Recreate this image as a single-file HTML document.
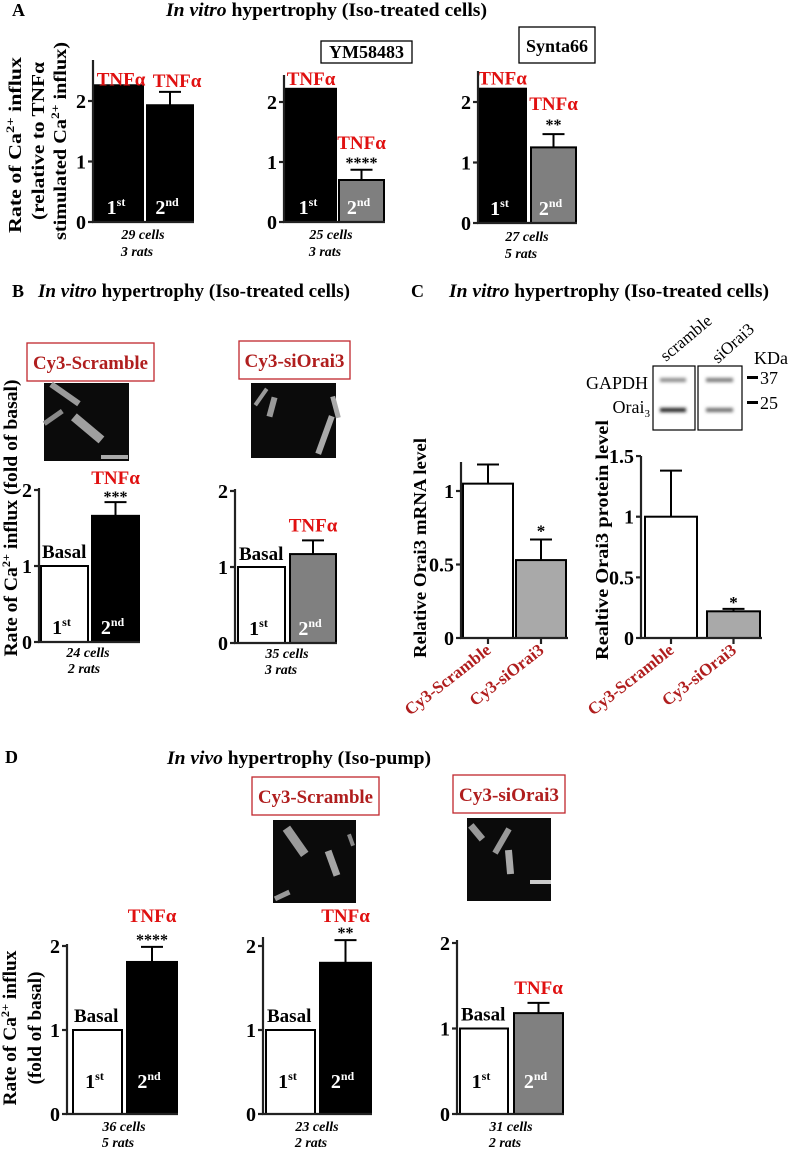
<!DOCTYPE html>
<html><head><meta charset="utf-8">
<style>
html,body{margin:0;padding:0;background:#fff;}
svg{display:block;font-family:"Liberation Serif","DejaVu Serif",serif;}
.b{font-weight:bold;}
</style></head>
<body>
<svg id="fig" width="796" height="1149" viewBox="0 0 796 1149" xmlns="http://www.w3.org/2000/svg">
<defs>
<filter id="blur" x="-20%" y="-100%" width="140%" height="300%"><feGaussianBlur stdDeviation="1.6"/></filter>
</defs>
<rect x="0" y="0" width="796" height="1149" fill="#fff"/>

<!-- Panel titles -->
<text x="12" y="16" class="b" font-size="18">A</text>
<text x="166" y="16" font-size="19" class="b" textLength="321" lengthAdjust="spacingAndGlyphs"><tspan font-style="italic">In vitro</tspan> hypertrophy (Iso-treated cells)</text>
<text x="12" y="297" class="b" font-size="18">B</text>
<text x="38" y="297" font-size="19" class="b" textLength="312" lengthAdjust="spacingAndGlyphs"><tspan font-style="italic">In vitro</tspan> hypertrophy (Iso-treated cells)</text>
<text x="411" y="297" class="b" font-size="18">C</text>
<text x="449" y="297" font-size="19" class="b" textLength="320" lengthAdjust="spacingAndGlyphs"><tspan font-style="italic">In vitro</tspan> hypertrophy (Iso-treated cells)</text>
<text x="5" y="763" class="b" font-size="18">D</text>
<text x="167" y="764" font-size="19" class="b" textLength="264" lengthAdjust="spacingAndGlyphs"><tspan font-style="italic">In vivo</tspan> hypertrophy (Iso-pump)</text>

<!-- Treatment boxes panel A -->
<g>
<rect x="321" y="41" width="91" height="22" fill="#fff" stroke="#000" stroke-width="1.3"/>
<text x="366.5" y="58" text-anchor="middle" font-size="18" class="b">YM58483</text>
</g>
<g>
<rect x="519" y="27" width="76" height="36" fill="#fff" stroke="#000" stroke-width="1.3"/>
<text x="557" y="52" text-anchor="middle" font-size="18" class="b">Synta66</text>
</g>

<!-- Y axis titles -->
<g class="b" font-size="18">
<text transform="translate(21,145) rotate(-90)" text-anchor="middle" textLength="176" lengthAdjust="spacingAndGlyphs">Rate of Ca<tspan font-size="12" dy="-7">2+</tspan><tspan dy="7"> influx</tspan></text>
<text transform="translate(44,141) rotate(-90)" text-anchor="middle" textLength="158" lengthAdjust="spacingAndGlyphs">(relative to TNFα</text>
<text transform="translate(66,141) rotate(-90)" text-anchor="middle" textLength="198" lengthAdjust="spacingAndGlyphs">stimulated Ca<tspan font-size="12" dy="-7">2+</tspan><tspan dy="7"> influx)</tspan></text>
</g>
<text class="b" font-size="19" transform="translate(17,518) rotate(-90)" text-anchor="middle" textLength="277" lengthAdjust="spacingAndGlyphs">Rate of Ca<tspan font-size="12" dy="-7">2+</tspan><tspan dy="7"> influx (fold of basal)</tspan></text>
<g class="b" font-size="19">
<text transform="translate(16,1028) rotate(-90)" text-anchor="middle" textLength="155" lengthAdjust="spacingAndGlyphs">Rate of Ca<tspan font-size="12" dy="-7">2+</tspan><tspan dy="7"> influx</tspan></text>
<text transform="translate(41,1028) rotate(-90)" text-anchor="middle" textLength="113" lengthAdjust="spacingAndGlyphs">(fold of basal)</text>
</g>
<text class="b" font-size="18" transform="translate(426,548) rotate(-90)" text-anchor="middle" textLength="220" lengthAdjust="spacingAndGlyphs">Relative Orai3 mRNA level</text>
<text class="b" font-size="18" transform="translate(608,540) rotate(-90)" text-anchor="middle" textLength="240" lengthAdjust="spacingAndGlyphs">Realtive Orai3 protein level</text>

<!-- siRNA boxes -->
<g>
<rect x="27" y="343" width="127" height="38" fill="#fff" stroke="#c0272d" stroke-width="1.3"/>
<text x="90.5" y="369" text-anchor="middle" font-size="19" class="b" fill="#b01e1e" textLength="115" lengthAdjust="spacingAndGlyphs">Cy3-Scramble</text>
</g>
<g>
<rect x="239" y="341" width="111" height="38" fill="#fff" stroke="#c0272d" stroke-width="1.3"/>
<text x="294.5" y="367" text-anchor="middle" font-size="19" class="b" fill="#b01e1e" textLength="100" lengthAdjust="spacingAndGlyphs">Cy3-siOrai3</text>
</g>
<g>
<rect x="252" y="777" width="127" height="38" fill="#fff" stroke="#c0272d" stroke-width="1.3"/>
<text x="315.5" y="803" text-anchor="middle" font-size="19" class="b" fill="#b01e1e" textLength="115" lengthAdjust="spacingAndGlyphs">Cy3-Scramble</text>
</g>
<g>
<rect x="453" y="775" width="112" height="38" fill="#fff" stroke="#c0272d" stroke-width="1.3"/>
<text x="509" y="801" text-anchor="middle" font-size="19" class="b" fill="#b01e1e" textLength="100" lengthAdjust="spacingAndGlyphs">Cy3-siOrai3</text>
</g>

<!-- Microscopy images -->
<g>
<rect x="44" y="383" width="85" height="78" fill="#0b0b0b"/>
<rect x="48" y="391" width="34" height="6" fill="#9a9a9a" transform="rotate(35 65 394)"/>
<rect x="42" y="415" width="22" height="5" fill="#8a8a8a" transform="rotate(-35 53 417)"/>
<rect x="70" y="424" width="36" height="9" fill="#a0a0a0" transform="rotate(40 88 428)"/>
<rect x="101" y="455" width="27" height="4" fill="#aaa"/>
</g>
<g>
<rect x="251" y="383" width="85" height="75" fill="#0b0b0b"/>
<rect x="251" y="395" width="20" height="4" fill="#999" transform="rotate(-55 261 397)"/>
<rect x="262" y="404" width="20" height="6" fill="#999" transform="rotate(-75 272 407)"/>
<rect x="305" y="432" width="40" height="6" fill="#aaa" transform="rotate(-70 325 435)"/>
<rect x="325" y="405" width="22" height="5" fill="#aaa" transform="rotate(75 336 407)"/>
</g>
<g>
<rect x="273" y="820" width="83" height="83" fill="#0b0b0b"/>
<rect x="280" y="837" width="32" height="9" fill="#9a9a9a" transform="rotate(55 296 841)"/>
<rect x="320" y="860" width="26" height="7" fill="#a5a5a5" transform="rotate(70 333 863)"/>
<rect x="274" y="893" width="16" height="5" fill="#999" transform="rotate(-25 282 895)"/>
<rect x="345" y="838" width="12" height="4" fill="#888" transform="rotate(70 351 840)"/>
</g>
<g>
<rect x="467" y="818" width="84" height="83" fill="#0b0b0b"/>
<rect x="468" y="829" width="18" height="7" fill="#999" transform="rotate(50 477 832)"/>
<rect x="488" y="838" width="28" height="6" fill="#999" transform="rotate(-60 502 841)"/>
<rect x="498" y="859" width="24" height="7" fill="#aaa" transform="rotate(85 510 862)"/>
<rect x="530" y="880" width="21" height="4" fill="#ccc"/>
</g>

<!-- Western blot -->
<g>
<text x="666" y="362" font-size="17" transform="rotate(-40 666 362)">scramble</text>
<text x="718" y="364" font-size="17" transform="rotate(-42 718 364)">siOrai3</text>
<text x="648" y="389" font-size="18" text-anchor="end">GAPDH</text>
<text x="650" y="413" font-size="18" text-anchor="end">Orai<tspan font-size="11" dy="4">3</tspan></text>
<rect x="653" y="366" width="42" height="64" fill="#fff" stroke="#000" stroke-width="1.2"/>
<rect x="698" y="366" width="44" height="64" fill="#fff" stroke="#000" stroke-width="1.2"/>
<rect x="660" y="378" width="26" height="4" fill="#8a8a8a" filter="url(#blur)"/>
<rect x="706" y="378" width="27" height="4" fill="#777" filter="url(#blur)"/>
<rect x="660" y="408" width="26" height="4" fill="#1a1a1a" filter="url(#blur)"/>
<rect x="706" y="408" width="27" height="4" fill="#6a6a6a" filter="url(#blur)"/>
<text x="754" y="364" font-size="18">KDa</text>
<rect x="747" y="376" width="11" height="3" fill="#000"/>
<text x="760" y="384" font-size="18">37</text>
<rect x="747" y="401" width="11" height="3" fill="#000"/>
<text x="760" y="409" font-size="18">25</text>
</g>

<!-- n labels -->
<g font-size="14" font-style="italic" class="b" text-anchor="middle">
<text x="143" y="239">29 cells</text><text x="137" y="256">3 rats</text>
<text x="331" y="239">25 cells</text><text x="325" y="256">3 rats</text>
<text x="527" y="241">27 cells</text><text x="521" y="258">5 rats</text>
<text x="88" y="657">24 cells</text><text x="84" y="673">2 rats</text>
<text x="287" y="658">35 cells</text><text x="281" y="674">3 rats</text>
<text x="124" y="1131">36 cells</text><text x="118" y="1147">5 rats</text>
<text x="317" y="1131">23 cells</text><text x="311" y="1147">2 rats</text>
<text x="511" y="1131">31 cells</text><text x="505" y="1147">2 rats</text>
</g>

<g id="charts"></g>
</svg>

<script>
// ---------- DATA ----------
const ordinalLabels = ['1', '2'];
const ordinalSuffixes = ['st', 'nd'];
const ticks012 = [0, 1, 2];
const tickLabels012 = ['0', '1', '2'];
const ticksMrna = [0, 0.5, 1];
const tickLabelsMrna = ['0', '0.5', '1'];
const ticksProt = [0, 0.5, 1, 1.5];
const tickLabelsProt = ['0', '0.5', '1', '1.5'];
const cCategories = ['Cy3-Scramble', 'Cy3-siOrai3'];

const a1Values = [2.26, 1.93];
const a1Errors = [0, 0.22];
const a2Values = [2.22, 0.70];
const a2Errors = [0, 0.17];
const a3Values = [2.22, 1.25];
const a3Errors = [0, 0.22];
const b1Values = [1.0, 1.66];
const b1Errors = [0, 0.18];
const b2Values = [1.0, 1.17];
const b2Errors = [0, 0.18];
const mrnaValues = [1.05, 0.53];
const mrnaErrors = [0.13, 0.14];
const protValues = [1.0, 0.22];
const protErrors = [0.38, 0.02];
const d1Values = [1.0, 1.81];
const d1Errors = [0, 0.18];
const d2Values = [1.0, 1.80];
const d2Errors = [0, 0.27];
const d3Values = [1.0, 1.18];
const d3Errors = [0, 0.12];

// ---------- DRAWING ----------
const NS = 'http://www.w3.org/2000/svg';
const RED = '#e01010';
const root = document.getElementById('charts');
function mk(tag, attrs, parent) {
  const e = document.createElementNS(NS, tag);
  for (const k in attrs) e.setAttribute(k, attrs[k]);
  parent.appendChild(e);
  return e;
}

function barChart(o, values, errors, ticks, tickLabels) {
  const g = mk('g', {}, root);
  
  
  const ys = v => o.y0 - v * o.unit;
  values.forEach((v, i) => {
    const [x1, x2] = o.bars[i];
    const r = mk('rect', {x: x1, y: ys(v), width: x2 - x1, height: o.y0 - ys(v), fill: o.fills[i], stroke: '#000', 'stroke-width': 2}, g);
    
    
    const e = errors[i];
    if (e > 0) {
      const cx = (x1 + x2) / 2;
      const eg = mk('g', {stroke: '#000', 'stroke-width': 2}, g);
      
      
      mk('line', {x1: cx, x2: cx, y1: ys(v), y2: ys(v + e)}, eg);
      mk('line', {x1: cx - 11, x2: cx + 11, y1: ys(v + e), y2: ys(v + e)}, eg);
    }
    if (o.ordDy !== undefined) {
      const t = mk('text', {x: (x1 + x2) / 2 - 3, y: o.y0 + o.ordDy, 'text-anchor': 'middle', 'font-size': 20, 'font-weight': 'bold', fill: o.ordColors[i]}, g);
      
      
      t.appendChild(document.createTextNode(ordinalLabels[i]));
      const s = mk('tspan', {'font-size': 12, dy: -8}, t);
      s.textContent = ordinalSuffixes[i];
    }
  });
  (o.ann || []).forEach(a => {
    const [x1, x2] = o.bars[a.i];
    const top = ys(values[a.i] + errors[a.i]);
    const isBasal = a.t === 'Basal';
    const t = mk('text', {x: isBasal ? x1 + 1 : (x1 + x2) / 2 + (a.dx || 0), y: top + a.dy, 'text-anchor': isBasal ? 'start' : 'middle', 'font-size': a.s || 19, 'font-weight': 'bold', fill: a.c || '#000'}, g);
    
    
    t.textContent = a.t;
  });
  const ax = mk('g', {stroke: '#222', 'stroke-width': 2.2, fill: 'none'}, g);
  
  
  mk('line', {x1: o.ax, x2: o.ax, y1: o.top, y2: o.y0 + 1}, ax);
  mk('line', {x1: o.ax - 1, x2: o.xEnd, y1: o.y0, y2: o.y0}, ax);
  ticks.forEach((tv, i) => {
    mk('line', {x1: o.ax - 5, x2: o.ax, y1: ys(tv), y2: ys(tv)}, ax);
    const t = mk('text', {x: o.ax - 7, y: ys(tv) + 7, 'text-anchor': 'end', 'font-size': 20, 'font-weight': 'bold', fill: '#000', stroke: 'none'}, g);
    
    
    t.textContent = tickLabels[i];
  });
  if (o.xLabels) {
    o.bars.forEach(([x1, x2], i) => {
      const cx = (x1 + x2) / 2;
      mk('line', {x1: cx, x2: cx, y1: o.y0, y2: o.y0 + 6}, ax);
      const t = mk('text', {x: cx + 4, y: o.y0 + 14, 'text-anchor': 'end', 'font-size': 17, 'font-weight': 'bold', fill: '#b01e1e', transform: 'rotate(-38 ' + (cx + 4) + ' ' + (o.y0 + 14) + ')'}, g);
      
      
      t.textContent = o.xLabels[i];
    });
  }
}

barChart({name: 'chart-a-control', ax: 93, y0: 222, unit: 60.5, top: 60, xEnd: 194, bars: [[95, 143], [147, 193]], fills: ['#000', '#000'], ordColors: ['#fff', '#fff'], ordDy: -8,
  ann: [{i: 0, t: 'TNFα', dy: 0, c: RED, dx: 2}, {i: 1, t: 'TNFα', dy: -5, c: RED, dx: 7}]}, a1Values, a1Errors, ticks012, tickLabels012);
barChart({name: 'chart-a-ym58483', ax: 284, y0: 222, unit: 60, top: 75, xEnd: 385, bars: [[286, 336], [339, 384]], fills: ['#000', '#7f7f7f'], ordColors: ['#fff', '#fff'], ordDy: -8,
  ann: [{i: 0, t: 'TNFα', dy: -4, c: RED}, {i: 1, t: '****', dy: -2, s: 16}, {i: 1, t: 'TNFα', dy: -21, c: RED}]}, a2Values, a2Errors, ticks012, tickLabels012);
barChart({name: 'chart-a-synta66', ax: 478, y0: 223, unit: 60.5, top: 71, xEnd: 577, bars: [[479, 526], [531, 576]], fills: ['#000', '#7f7f7f'], ordColors: ['#fff', '#fff'], ordDy: -8,
  ann: [{i: 0, t: 'TNFα', dy: -4, c: RED}, {i: 1, t: '**', dy: -4, s: 16}, {i: 1, t: 'TNFα', dy: -24, c: RED}]}, a3Values, a3Errors, ticks012, tickLabels012);
barChart({name: 'chart-b-scramble', ax: 39, y0: 642, unit: 76, top: 488, xEnd: 140, bars: [[41, 88], [92, 139]], fills: ['#fff', '#000'], ordColors: ['#000', '#fff'], ordDy: -8,
  ann: [{i: 0, t: 'Basal', dy: -8}, {i: 1, t: '***', dy: 0, s: 16}, {i: 1, t: 'TNFα', dy: -18, c: RED}]}, b1Values, b1Errors, ticks012, tickLabels012);
barChart({name: 'chart-b-siorai3', ax: 235, y0: 643, unit: 76, top: 489, xEnd: 337, bars: [[238, 285], [290, 336]], fills: ['#fff', '#808080'], ordColors: ['#000', '#fff'], ordDy: -8,
  ann: [{i: 0, t: 'Basal', dy: -7}, {i: 1, t: 'TNFα', dy: -9, c: RED}]}, b2Values, b2Errors, ticks012, tickLabels012);
barChart({name: 'chart-c-mrna', ax: 461, y0: 638, unit: 147, top: 462, xEnd: 568, bars: [[463, 513], [516, 566]], fills: ['#fff', '#a9a9a9'], xLabels: cCategories,
  ann: [{i: 1, t: '*', dy: -3, s: 17}]}, mrnaValues, mrnaErrors, ticksMrna, tickLabelsMrna);
barChart({name: 'chart-c-protein', ax: 641, y0: 638, unit: 121.3, top: 456, xEnd: 762, bars: [[645, 697], [707, 760]], fills: ['#fff', '#a9a9a9'], xLabels: cCategories,
  ann: [{i: 1, t: '*', dy: -1, s: 17}]}, protValues, protErrors, ticksProt, tickLabelsProt);
barChart({name: 'chart-d-control', ax: 67, y0: 1114, unit: 84, top: 944, xEnd: 178, bars: [[73, 122], [127, 177]], fills: ['#fff', '#000'], ordColors: ['#000', '#fff'], ordDy: -26,
  ann: [{i: 0, t: 'Basal', dy: -8}, {i: 1, t: '****', dy: -2, s: 16}, {i: 1, t: 'TNFα', dy: -25, c: RED}]}, d1Values, d1Errors, ticks012, tickLabels012);
barChart({name: 'chart-d-scramble', ax: 263, y0: 1114, unit: 84, top: 937, xEnd: 372, bars: [[266, 315], [320, 371]], fills: ['#fff', '#000'], ordColors: ['#000', '#fff'], ordDy: -26,
  ann: [{i: 0, t: 'Basal', dy: -8}, {i: 1, t: '**', dy: -2, s: 16}, {i: 1, t: 'TNFα', dy: -18, c: RED}]}, d2Values, d2Errors, ticks012, tickLabels012);
barChart({name: 'chart-d-siorai3', ax: 457, y0: 1114, unit: 85.5, top: 940, xEnd: 564, bars: [[460, 508], [514, 563]], fills: ['#fff', '#808080'], ordColors: ['#000', '#fff'], ordDy: -26,
  ann: [{i: 0, t: 'Basal', dy: -8}, {i: 1, t: 'TNFα', dy: -9, c: RED}]}, d3Values, d3Errors, ticks012, tickLabels012);
</script>
</body></html>
